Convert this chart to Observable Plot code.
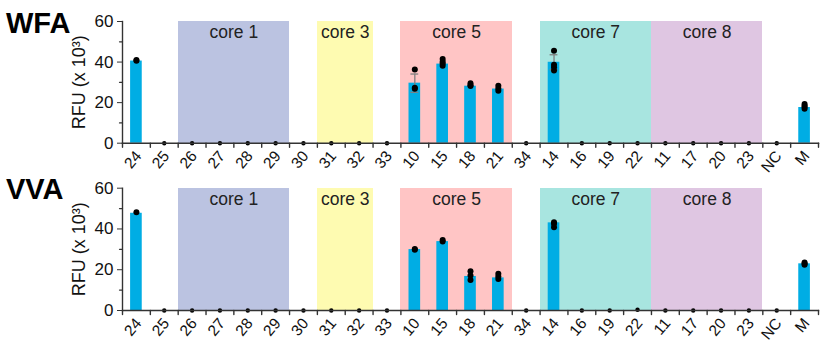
<!DOCTYPE html>
<html>
<head>
<meta charset="utf-8">
<script src="https://cdn.jsdelivr.net/npm/d3@7"></script>
<script src="https://cdn.jsdelivr.net/npm/@observablehq/plot@0.6"></script>
<style>
  html, body { margin: 0; padding: 0; background: #fff; }
  #wrap { position: relative; width: 830px; height: 350px; font-family: "Liberation Sans", Arial, sans-serif; }
  .panel { position: absolute; left: 0; }
  .ttl { position: absolute; left: 6px; font-weight: bold; font-size: 29px; color: #000; line-height: 1; }
</style>
</head>
<body>
<div id="wrap"></div>
<script>
// ---------- data ----------
const categories = ["24","25","26","27","28","29","30","31","32","33","10","15","18","21","34","14","16","19","22","11","17","20","23","NC","M"];

const wfaMeans = [40.5,0,0,0,0,0,0,0,0,0,29.6,39.0,28.1,26.7,0,39.9,0,0,0,0,0,0,0,0,17.6];
const wfaErr   = [0,0,0,0,0,0,0,0,0,0,4.5,0,0,0,0,3.7,0,0,0,0,0,0,0,0,0];
const wfaReps  = [[41.0,40.7],[0],[0],[0],[0],[0],[0],[0],[0],[0],
                  [36.3,27.3,26.8],[41.5,40.2,39.3,38.2],[29.6,28.6,28.2],[28.3,27.0,25.8],[0],
                  [45.6,38.7,37.5,35.8],[0],[0],[0],[0],[0],[0],[0],[0],[19.3,18.5,17.9,17.0]];

const vvaMeans = [47.7,0,0,0,0,0,0,0,0,0,29.9,33.8,16.7,16.0,0,43.0,0,0,0,0,0,0,0,0,22.9];
const vvaErr   = [0,0,0,0,0,0,0,0,0,0,0,0,0,0,0,0,0,0,0,0,0,0,0,0,0];
const vvaReps  = [[48.2],[0],[0],[0],[0],[0],[0],[0],[0],[0],
                  [30.2,29.8],[34.6,33.9],[19.3,17.2,15.0],[18.0,16.7,15.5],[0],
                  [43.3,42.6,40.8],[0],[0],[0.4],[0],[0],[0],[0],[0],[23.5,22.9,22.4]];

const coreLabels  = ["core 1","core 3","core 5","core 7","core 8"];
const coreMembers = [["26","27","28","29"],["31","32"],["10","15","18","21"],["14","16","19","22"],["11","17","20","23"]];
const coreColors  = ["#bbc3e1","#fefbb1","#ffc5c5","#a8e5e0","#dfc6e2"];

const yTicks = [0,20,40,60];
const yMinorTicks = [10,30,50];
const yLabel = "RFU (x 10³)";

// ---------- chart ----------
const W = 830, ML = 122, MR = 12;
const step = (W - ML - MR) / categories.length;
const barColor = "#00ade4";
const axisColor = "#333";
const font = "Liberation Sans, Arial, sans-serif";
const lineShape = {draw(ctx, l) { ctx.moveTo(0, 0); ctx.lineTo(0, -l); }};

function panel(means, errs, reps, height, marginTop, marginBottom) {
  const rows = categories.map((c, i) => ({cat: c, mean: means[i], err: errs[i]}));
  const pts = categories.flatMap((c, i) => reps[i].map(v => ({cat: c, v})));
  const shade = coreMembers.flatMap((m, k) => m.map(c => ({cat: c, color: coreColors[k]})));
  const coreText = coreMembers.map((m, k) => ({cat: m[Math.floor((m.length - 1) / 2)], label: coreLabels[k]}));
  return Plot.plot({
    width: W, height, marginLeft: ML, marginRight: MR, marginTop, marginBottom,
    style: {fontFamily: font, color: "#111", background: "white"},
    x: {domain: categories, padding: 0, round: false, label: null},
    y: {domain: [0, 60], label: null},
    color: {type: "identity"},
    marks: [
      Plot.barY(shade, {x: "cat", y1: 0, y2: 60, fill: "color", shapeRendering: "crispEdges"}),
      Plot.text(coreText, {x: "cat", y: 60, text: "label", dx: step / 2, dy: 11, fontSize: 17.5, fill: "#222", lineAnchor: "middle"}),
      Plot.barY(rows.filter(d => d.mean > 0), {x: "cat", y: "mean", fill: barColor, insetLeft: 8.1, insetRight: 8.1}),
      Plot.ruleX(rows.filter(d => d.err > 0), {x: "cat", y1: d => d.mean - d.err, y2: d => d.mean + d.err, stroke: "#808080", strokeWidth: 1.3}),
      Plot.tickY(rows.filter(d => d.err > 0), {x: "cat", y: d => d.mean + d.err, stroke: "#808080", strokeWidth: 1.3, insetLeft: 10, insetRight: 10}),
      Plot.tickY(rows.filter(d => d.err > 0), {x: "cat", y: d => d.mean - d.err, stroke: "#808080", strokeWidth: 1.3, insetLeft: 10, insetRight: 10}),
      Plot.dot(pts.filter(d => d.v > 0.5), {x: "cat", y: "v", r: 3, fill: "black"}),
      Plot.dot(pts.filter(d => d.v <= 0.5), {x: "cat", y: "v", r: 2.2, fill: "black"}),
      Plot.frame({anchor: "left", stroke: axisColor, strokeWidth: 1.4}),
      Plot.frame({anchor: "bottom", stroke: axisColor, strokeWidth: 1.4}),
      // band-boundary ticks below the x axis
      Plot.vector(categories, {x: d => d, y: 0, dx: -step / 2, rotate: 180, length: 4, anchor: "start", shape: lineShape, stroke: axisColor, strokeWidth: 1.4}),
      Plot.vector([categories[categories.length - 1]], {x: d => d, y: 0, dx: step / 2, rotate: 180, length: 4, anchor: "start", shape: lineShape, stroke: axisColor, strokeWidth: 1.4}),
      // minor y ticks
      Plot.vector(yMinorTicks, {x: () => categories[0], y: d => d, dx: -step / 2, rotate: -90, length: 3, anchor: "start", shape: lineShape, stroke: axisColor, strokeWidth: 1.2}),
      Plot.axisY({ticks: yTicks, tickSize: 5, tickPadding: 4, fontSize: 17, label: null, stroke: axisColor}),
      Plot.axisY({ticks: yTicks, tickSize: 0, tickFormat: () => "", fontSize: 18, label: yLabel, labelAnchor: "center", labelArrow: "none", labelOffset: 50, dy: 5}),
      Plot.axisX({tickSize: 0, tickRotate: -50, tickPadding: 10, dx: 2, fontSize: 15.5, label: null})
    ]
  });
}

const wrap = document.getElementById("wrap");
const p1 = panel(wfaMeans, wfaErr, wfaReps, 175, 21, 32.3);
p1.classList.add("panel"); p1.style.top = "0px";
const p2 = panel(vvaMeans, vvaErr, vvaReps, 175, 12.7, 40);
p2.classList.add("panel"); p2.style.top = "175px";
wrap.appendChild(p1);
wrap.appendChild(p2);

const t1 = document.createElement("div"); t1.className = "ttl"; t1.textContent = "WFA"; t1.style.top = "9px";
const t2 = document.createElement("div"); t2.className = "ttl"; t2.textContent = "VVA"; t2.style.top = "175px";
wrap.appendChild(t1); wrap.appendChild(t2);
</script>
</body>
</html>
